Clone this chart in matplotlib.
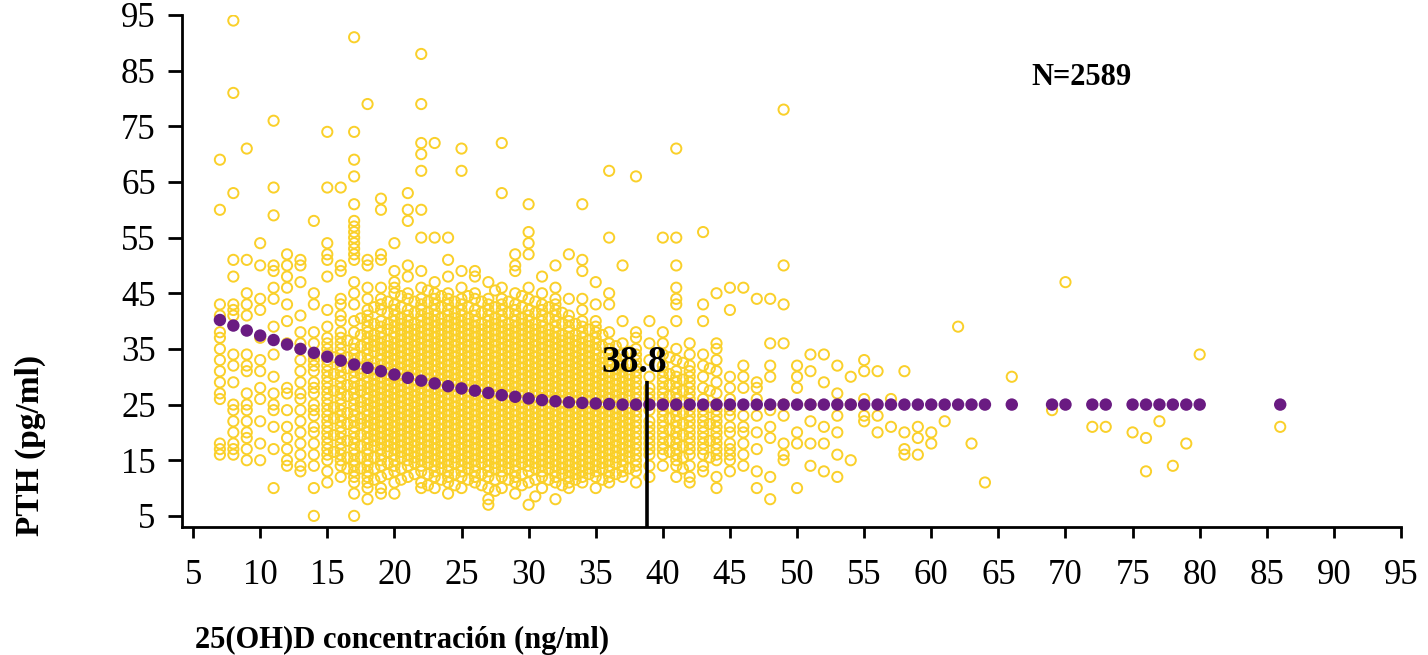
import numpy as np
import matplotlib
matplotlib.use('Agg')
import matplotlib.pyplot as plt

plt.rcParams['font.family'] = ['Liberation Serif', 'DejaVu Serif']

# 25(OH)D value of each column of points and the PTH values read in that column
col_x = [7, 8, 9, 10, 11, 12, 13, 14, 15, 16, 17, 18, 19, 20, 21, 22, 23, 24, 25, 26,
         27, 28, 29, 30, 31, 32, 33, 34, 35, 36, 37, 38, 39, 40, 41, 42, 43, 44, 45, 46,
         47, 48, 49, 50, 51, 52, 53, 54, 55, 56, 57, 58, 59, 60, 61, 62, 63, 64, 66, 69,
         70, 72, 73, 75, 76, 77, 78, 79, 80, 86]
col_pth = [
    [69, 60, 43, 41, 38, 37, 35, 33, 31, 29, 27, 26, 18, 17, 16],
    [94, 81, 63, 51, 48, 43, 42, 41, 34, 32, 29, 25, 24, 22, 20, 18, 17, 16],
    [71, 51, 45, 43, 41, 34, 32, 31, 27, 25, 24, 22, 20, 19, 17, 15],
    [54, 50, 44, 42, 37, 33, 31, 28, 26, 22, 18, 15],
    [76, 64, 59, 50, 49, 46, 44, 39, 34, 30, 27, 25, 24, 21, 17, 10],
    [52, 50, 48, 46, 43, 40, 36, 28, 27, 24, 21, 19, 17, 15, 14],
    [51, 50, 47, 41, 38, 36, 35, 33, 31, 29, 27, 26, 24, 22, 20, 18, 16, 14, 13],
    [58, 45, 43, 38, 36, 34, 33, 32, 31, 29, 28, 27, 25, 24, 23, 21, 20, 18, 16, 14, 10, 5],
    [74, 64, 54, 52, 51, 48, 42, 39, 37, 36, 35, 34, 33, 32, 31, 30, 29, 28, 27, 26, 25, 24,
     23, 22, 21, 20, 19, 18, 17, 16, 15, 13, 11],
    [64, 50, 49, 44, 43, 41, 40, 38, 37, 36, 35, 34, 33, 32, 31, 30, 29, 28, 27, 26, 25, 24,
     23, 22, 21, 20, 19, 18, 17, 16, 15, 14, 12],
    [91, 74, 69, 66, 61, 58, 57, 56, 55, 54, 53, 52, 51, 47, 45, 43, 40, 38, 36, 35, 34, 33,
     32, 31, 30, 29, 28, 27, 26, 25, 24, 23, 22, 21, 20, 19, 18, 17, 16, 15, 14, 13, 12, 11, 9, 5],
    [79, 51, 50, 46, 44, 42, 41, 40, 39, 38, 37, 36, 35, 34, 33, 32, 31, 30, 29, 28, 27, 26,
     25, 24, 23, 22, 21, 20, 19, 18, 17, 16, 15, 14, 13, 12, 11, 10, 8],
    [62, 60, 52, 51, 46, 44, 43, 42, 40, 39, 38, 37, 36, 35, 34, 33, 32, 31, 30, 29, 28, 27,
     26, 25, 24, 23, 22, 21, 20, 19, 18, 17, 16, 15, 14, 12, 10, 9],
    [54, 49, 47, 46, 45, 43, 42, 41, 40, 39, 38, 37, 36, 35, 34, 33, 32, 31, 30, 29, 28, 27,
     26, 25, 24, 23, 22, 21, 20, 19, 18, 17, 16, 15, 14, 13, 11, 9],
    [63, 60, 58, 50, 48, 45, 44, 42, 41, 40, 39, 38, 37, 36, 35, 34, 33, 32, 31, 30, 29, 28,
     27, 26, 25, 24, 23, 22, 21, 20, 19, 18, 17, 16, 15, 14, 12],
    [88, 79, 72, 70, 67, 60, 55, 49, 46, 44, 43, 42, 41, 40, 39, 38, 37, 36, 35, 34, 33, 32,
     31, 30, 29, 28, 27, 26, 25, 24, 23, 22, 21, 20, 19, 18, 17, 16, 15, 14, 13, 11, 10],
    [72, 55, 47, 45, 44, 43, 42, 41, 40, 39, 38, 37, 36, 35, 34, 33, 32, 31, 30, 29, 28, 27,
     26, 25, 24, 23, 22, 21, 20, 19, 18, 17, 16, 15, 14, 13, 12, 10],
    [55, 51, 48, 45, 44, 43, 42, 41, 40, 39, 38, 37, 36, 35, 34, 33, 32, 31, 30, 29, 28, 27,
     26, 25, 24, 23, 22, 21, 20, 19, 18, 17, 16, 15, 14, 13, 12, 11, 9],
    [71, 67, 49, 46, 44, 43, 42, 41, 40, 39, 38, 37, 36, 35, 34, 33, 32, 31, 30, 29, 28, 27,
     26, 25, 24, 23, 22, 21, 20, 19, 18, 17, 16, 15, 14, 13, 12, 10],
    [49, 48, 45, 44, 42, 41, 40, 39, 38, 37, 36, 35, 34, 33, 32, 31, 30, 29, 28, 27, 26, 25,
     24, 23, 22, 21, 20, 19, 18, 17, 16, 15, 14, 13, 12, 11],
    [47, 44, 43, 42, 41, 40, 39, 38, 37, 36, 35, 34, 33, 32, 31, 30, 29, 28, 27, 26, 25, 24,
     23, 22, 21, 20, 19, 18, 17, 16, 15, 14, 13, 12, 10, 8, 7],
    [72, 63, 46, 44, 43, 42, 41, 40, 39, 38, 37, 36, 35, 34, 33, 32, 31, 30, 29, 28, 27, 26,
     25, 24, 23, 22, 21, 20, 19, 18, 17, 16, 15, 14, 13, 12, 10],
    [52, 50, 49, 45, 43, 42, 41, 40, 39, 38, 37, 36, 35, 34, 33, 32, 31, 30, 29, 28, 27, 26,
     25, 24, 23, 22, 21, 20, 19, 18, 17, 16, 15, 14, 13, 12, 11, 9],
    [61, 56, 54, 52, 46, 44, 42, 41, 40, 39, 38, 37, 36, 35, 34, 33, 32, 31, 30, 29, 28, 27,
     26, 25, 24, 23, 22, 21, 20, 19, 18, 17, 16, 15, 14, 13, 11, 7],
    [48, 45, 43, 42, 41, 40, 39, 38, 37, 36, 35, 34, 33, 32, 31, 30, 29, 28, 27, 26, 25, 24,
     23, 22, 21, 20, 19, 18, 17, 16, 15, 14, 13, 12, 10],
    [50, 46, 44, 43, 42, 41, 40, 39, 38, 37, 36, 35, 34, 33, 32, 31, 30, 29, 28, 27, 26, 25,
     24, 23, 22, 21, 20, 19, 18, 17, 16, 15, 14, 13, 12, 11, 8],
    [52, 44, 41, 40, 39, 38, 37, 36, 35, 34, 33, 32, 31, 30, 29, 28, 27, 26, 25, 24, 23, 22,
     21, 20, 19, 18, 17, 16, 15, 14, 13, 12, 11, 10],
    [61, 51, 49, 44, 42, 40, 39, 38, 37, 36, 35, 34, 33, 32, 31, 30, 29, 28, 27, 26, 25, 24,
     23, 22, 21, 20, 19, 18, 17, 16, 15, 14, 13, 12, 11],
    [47, 43, 40, 39, 38, 37, 36, 35, 34, 33, 32, 31, 30, 29, 28, 27, 26, 25, 24, 23, 22, 21,
     20, 19, 18, 17, 16, 15, 14, 13, 12, 10],
    [67, 55, 45, 43, 38, 36, 35, 34, 33, 32, 31, 30, 29, 28, 27, 26, 25, 24, 23, 22, 21, 20,
     19, 18, 17, 16, 15, 14, 13, 12, 11],
    [50, 40, 36, 34, 33, 32, 31, 30, 29, 28, 27, 26, 25, 24, 23, 22, 21, 20, 19, 18, 17, 16,
     15, 14, 13, 12],
    [66, 38, 37, 35, 34, 33, 32, 31, 30, 29, 28, 27, 26, 25, 24, 23, 22, 21, 20, 19, 18, 17,
     16, 15, 14, 13, 11],
    [40, 36, 33, 30, 28, 27, 26, 25, 24, 22, 21, 20, 19, 18, 17, 16, 14, 12],
    [55, 38, 36, 34, 32, 31, 30, 29, 28, 27, 26, 25, 24, 23, 22, 21, 20, 19, 18, 17, 16, 14],
    [71, 55, 50, 46, 44, 43, 40, 35, 33, 31, 30, 29, 28, 27, 26, 25, 24, 23, 22, 21, 20, 19,
     18, 17, 16, 15, 14, 12],
    [36, 34, 32, 31, 30, 29, 28, 27, 26, 24, 23, 22, 21, 20, 19, 18, 17, 16, 14, 12, 11],
    [56, 43, 40, 34, 32, 30, 28, 26, 24, 23, 22, 21, 20, 19, 18, 17, 16, 14, 13],
    [45, 36, 35, 33, 31, 29, 27, 25, 24, 23, 22, 21, 20, 19, 18, 17, 16, 15, 12, 10],
    [46, 42, 30, 28, 26, 24, 23, 21, 20, 18, 17, 16, 15, 13],
    [46, 32, 30, 28, 23, 21, 20, 18, 16, 14],
    [44, 29, 28, 26, 23, 20, 17, 13, 10],
    [44, 36, 32, 30, 24, 21, 19, 12, 8],
    [78, 50, 43, 36, 25, 23, 18, 16, 15],
    [32, 30, 28, 20, 18, 10],
    [34, 31, 25, 22, 18, 14],
    [34, 29, 21, 18, 13],
    [32, 27, 23, 20, 16, 12],
    [30, 25, 15],
    [33, 31, 26, 23, 22],
    [31, 23, 20],
    [26, 21],
    [31, 20, 17, 16],
    [21, 19, 16],
    [20, 18],
    [22],
    [39],
    [18],
    [11],
    [30],
    [24],
    [47],
    [21],
    [21],
    [20],
    [19, 13],
    [22],
    [14],
    [18],
    [34],
    [21],
]

# in-between values that fill the dense core of the cloud
core_x = [15.5, 16.5, 17.5, 18.5, 19.5, 20.5, 21.5, 22.5, 23.5, 24.5, 25.5, 26.5, 27.5,
          28.5, 29.5, 30.5, 31.5, 32.5, 33.5, 34.5, 35.5, 36.5, 37.5, 40.5, 41.5, 43.5]
core_pth = [
    [33.5, 30.5, 27.5, 24.5, 22.5, 19.5, 16.5],
    [36.5, 33.5, 31.5, 28.5, 26.5, 23.5, 21.5, 18.5, 15.5, 13.5],
    [40.5, 37.5, 35.5, 33.5, 31.5, 30.5, 28.5, 27.5, 25.5, 24.5, 22.5, 21.5, 19.5, 17.5,
     15.5, 13.5],
    [42.5, 39.5, 37.5, 36.5, 35.5, 34.5, 32.5, 31.5, 30.5, 29.5, 28.5, 27.5, 26.5, 25.5,
     24.5, 23.5, 22.5, 21.5, 20.5, 19.5, 18.5, 17.5, 15.5, 13.5, 11.5],
    [43.5, 41.5, 39.5, 38.5, 36.5, 35.5, 34.5, 33.5, 32.5, 31.5, 30.5, 29.5, 28.5, 27.5,
     26.5, 25.5, 24.5, 23.5, 22.5, 21.5, 20.5, 19.5, 18.5, 17.5, 16.5, 14.5, 12.5],
    [44.5, 42.5, 40.5, 39.5, 38.5, 37.5, 36.5, 35.5, 34.5, 33.5, 32.5, 31.5, 30.5, 29.5,
     28.5, 27.5, 26.5, 25.5, 24.5, 23.5, 22.5, 21.5, 20.5, 19.5, 18.5, 17.5, 16.5, 15.5,
     13.5, 11.5],
    [43.5, 41.5, 39.5, 38.5, 37.5, 36.5, 35.5, 34.5, 33.5, 32.5, 31.5, 30.5, 29.5, 28.5,
     27.5, 26.5, 25.5, 24.5, 23.5, 22.5, 21.5, 20.5, 19.5, 18.5, 17.5, 16.5, 15.5, 14.5,
     12.5],
    [45.5, 43.5, 41.5, 40.5, 39.5, 38.5, 37.5, 36.5, 35.5, 34.5, 33.5, 32.5, 31.5, 30.5,
     29.5, 28.5, 27.5, 26.5, 25.5, 24.5, 23.5, 22.5, 21.5, 20.5, 19.5, 18.5, 17.5, 16.5,
     15.5, 14.5, 12.5, 10.5],
    [44.5, 42.5, 40.5, 39.5, 38.5, 37.5, 36.5, 35.5, 34.5, 33.5, 32.5, 31.5, 30.5, 29.5,
     28.5, 27.5, 26.5, 25.5, 24.5, 23.5, 22.5, 21.5, 20.5, 19.5, 18.5, 17.5, 16.5, 15.5,
     14.5, 13.5, 11.5],
    [43.5, 41.5, 40.5, 39.5, 38.5, 37.5, 36.5, 35.5, 34.5, 33.5, 32.5, 31.5, 30.5, 29.5,
     28.5, 27.5, 26.5, 25.5, 24.5, 23.5, 22.5, 21.5, 20.5, 19.5, 18.5, 17.5, 16.5, 15.5,
     14.5, 12.5, 10.5],
    [44.5, 42.5, 40.5, 39.5, 38.5, 37.5, 36.5, 35.5, 34.5, 33.5, 32.5, 31.5, 30.5, 29.5,
     28.5, 27.5, 26.5, 25.5, 24.5, 23.5, 22.5, 21.5, 20.5, 19.5, 18.5, 17.5, 16.5, 15.5,
     14.5, 13.5, 11.5],
    [43.5, 41.5, 39.5, 38.5, 37.5, 36.5, 35.5, 34.5, 33.5, 32.5, 31.5, 30.5, 29.5, 28.5,
     27.5, 26.5, 25.5, 24.5, 23.5, 22.5, 21.5, 20.5, 19.5, 18.5, 17.5, 16.5, 15.5, 14.5,
     12.5, 10.5],
    [45.5, 42.5, 40.5, 39.5, 38.5, 37.5, 36.5, 35.5, 34.5, 33.5, 32.5, 31.5, 30.5, 29.5,
     28.5, 27.5, 26.5, 25.5, 24.5, 23.5, 22.5, 21.5, 20.5, 19.5, 18.5, 17.5, 16.5, 15.5,
     14.5, 13.5, 11.5, 9.5],
    [43.5, 41.5, 39.5, 38.5, 37.5, 36.5, 35.5, 34.5, 33.5, 32.5, 31.5, 30.5, 29.5, 28.5,
     27.5, 26.5, 25.5, 24.5, 23.5, 22.5, 21.5, 20.5, 19.5, 18.5, 17.5, 16.5, 15.5, 14.5,
     13.5, 11.5],
    [44.5, 42.5, 40.5, 39.5, 38.5, 37.5, 36.5, 35.5, 34.5, 33.5, 32.5, 31.5, 30.5, 29.5,
     28.5, 27.5, 26.5, 25.5, 24.5, 23.5, 22.5, 21.5, 20.5, 19.5, 18.5, 17.5, 16.5, 15.5,
     14.5, 12.5, 10.5],
    [43.5, 41.5, 39.5, 38.5, 37.5, 36.5, 35.5, 34.5, 33.5, 32.5, 31.5, 30.5, 29.5, 28.5,
     27.5, 26.5, 25.5, 24.5, 23.5, 22.5, 21.5, 20.5, 19.5, 18.5, 17.5, 16.5, 15.5, 14.5,
     13.5, 11.5, 8.5],
    [42.5, 40.5, 38.5, 37.5, 36.5, 35.5, 34.5, 33.5, 32.5, 31.5, 30.5, 29.5, 28.5, 27.5,
     26.5, 25.5, 24.5, 23.5, 22.5, 21.5, 20.5, 19.5, 18.5, 17.5, 16.5, 15.5, 14.5, 13.5,
     11.5],
    [41.5, 39.5, 37.5, 36.5, 35.5, 34.5, 33.5, 32.5, 31.5, 30.5, 29.5, 28.5, 27.5, 26.5,
     25.5, 24.5, 23.5, 22.5, 21.5, 20.5, 19.5, 18.5, 17.5, 16.5, 15.5, 14.5, 13.5, 12.5,
     10.5],
    [39.5, 37.5, 36.5, 35.5, 34.5, 33.5, 32.5, 31.5, 30.5, 29.5, 28.5, 27.5, 26.5, 25.5,
     24.5, 23.5, 22.5, 21.5, 20.5, 19.5, 18.5, 17.5, 16.5, 15.5, 14.5, 13.5, 12.5, 11.5],
    [38.5, 36.5, 35.5, 34.5, 33.5, 32.5, 31.5, 30.5, 29.5, 28.5, 27.5, 26.5, 25.5, 24.5,
     23.5, 22.5, 21.5, 20.5, 19.5, 18.5, 17.5, 16.5, 15.5, 14.5, 13.5, 12.5],
    [37.5, 35.5, 33.5, 32.5, 31.5, 30.5, 29.5, 28.5, 27.5, 26.5, 25.5, 24.5, 23.5, 22.5,
     21.5, 20.5, 19.5, 18.5, 17.5, 16.5, 15.5, 14.5, 13.5, 11.5],
    [35.5, 33.5, 31.5, 30.5, 29.5, 28.5, 27.5, 26.5, 25.5, 24.5, 23.5, 22.5, 21.5, 20.5,
     19.5, 18.5, 17.5, 16.5, 15.5, 14.5, 12.5],
    [34.5, 32.5, 30.5, 29.5, 28.5, 27.5, 26.5, 24.5, 23.5, 22.5, 21.5, 20.5, 19.5, 18.5,
     17.5, 16.5, 15.5, 13.5],
    [33.5, 30.5, 28.5, 26.5, 24.5, 22.5, 20.5, 18.5, 16.5],
    [32.5, 29.5, 27.5, 25.5, 23.5, 21.5, 19.5, 17.5, 15.5, 13.5],
    [31.5, 27.5, 24.5, 21.5, 18.5, 15.5],
]

# fitted PTH at each 25(OH)D value
fit_x = [7, 8, 9, 10, 11, 12, 13, 14, 15, 16, 17, 18, 19, 20, 21, 22, 23, 24, 25, 26,
         27, 28, 29, 30, 31, 32, 33, 34, 35, 36, 37, 38, 39, 40, 41, 42, 43, 44, 45, 46,
         47, 48, 49, 50, 51, 52, 53, 54, 55, 56, 57, 58, 59, 60, 61, 62, 63, 64, 66, 69,
         70, 72, 73, 75, 76, 77, 78, 79, 80, 86]
fit_pth = [40.2, 39.2, 38.3, 37.4, 36.6, 35.8, 35.0, 34.3, 33.6, 32.9, 32.2, 31.6, 31.0,
           30.4, 29.8, 29.3, 28.8, 28.3, 27.9, 27.5, 27.1, 26.7, 26.4, 26.1, 25.8, 25.6,
           25.4, 25.3, 25.2, 25.1, 25.0, 25.0, 25.0, 25.0, 25.0, 25.0, 25.0, 25.0, 25.0,
           25.0, 25.0, 25.0, 25.0, 25.0, 25.0, 25.0, 25.0, 25.0, 25.0, 25.0, 25.0, 25.0,
           25.0, 25.0, 25.0, 25.0, 25.0, 25.0, 25.0, 25.0, 25.0, 25.0, 25.0, 25.0, 25.0,
           25.0, 25.0, 25.0, 25.0, 25.0]

breakpoint = 38.8
n_label = 'N=2589'

xs = np.concatenate([np.repeat(col_x, [len(c) for c in col_pth]),
                     np.repeat(core_x, [len(c) for c in core_pth])])
ys = np.concatenate(col_pth + core_pth)

fig = plt.figure(figsize=(14.28, 6.55), dpi=100)
ax = fig.add_axes([0.1275, 0.1954, 0.8536, 0.7817])

ax.scatter(xs, ys, s=54, facecolors='none', edgecolors='#FAD02A', linewidths=1.4, zorder=2)
ax.scatter(fit_x, fit_pth, s=80, color='#6A1B82', edgecolors='none', zorder=3)

ymin = 3.0
ax.plot([breakpoint, breakpoint], [ymin, 29.2], color='black', lw=2.6, zorder=4,
        solid_capstyle='butt')
ax.text(37.85, 30.8, '38.8', fontsize=27, fontweight='bold', ha='center', va='baseline',
        zorder=5)
ax.text(71.2, 83.7, n_label, fontsize=22, fontweight='bold', ha='center', va='center')

ax.set_xlim(4.18, 95)
ax.set_ylim(ymin, 95)
ax.set_xticks(np.arange(5, 96, 5))
ax.set_yticks(np.arange(5, 96, 10))

for s in ['top', 'right']:
    ax.spines[s].set_visible(False)
for s in ['left', 'bottom']:
    ax.spines[s].set_linewidth(2.0)

ax.tick_params(axis='x', direction='out', length=8, width=2, labelsize=25, pad=15)
ax.tick_params(axis='y', direction='out', length=10, width=2, labelsize=25, pad=9)

fig.text(0.021, 0.3206, 'PTH (pg/ml)', rotation=90, fontsize=24, fontweight='bold',
         ha='center', va='center')
fig.text(0.1366, 0.0229, '25(OH)D concentración (ng/ml)', fontsize=22, fontweight='bold',
         ha='left', va='center')

fig.savefig('out.png', dpi=100)
